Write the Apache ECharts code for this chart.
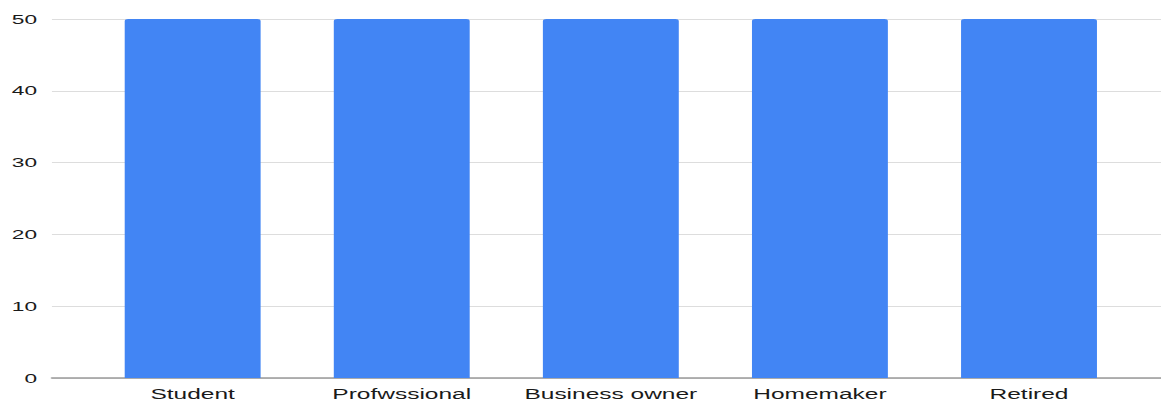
<!DOCTYPE html>
<html>
<head>
<meta charset="utf-8">
<script src="https://cdn.jsdelivr.net/npm/echarts@6/dist/echarts.min.js"></script>
<style>
html,body{margin:0;padding:0;background:#fff;overflow:hidden;}
#wrap{width:1161px;height:402px;overflow:hidden;}
#chart{width:664px;height:402px;transform:scaleX(1.7485);transform-origin:0 0;}
</style>
</head>
<body>
<div id="wrap"><div id="chart"></div></div>
<script>
const categories = ['Student', 'Profwssional', 'Business owner', 'Homemaker', 'Retired'];
const values = [50, 50, 50, 50, 50];
const yTicks = { min: 0, max: 50, interval: 10 };

const chart = echarts.init(document.getElementById('chart'), null, { renderer: 'svg' });
const font = 'Liberation Sans, Arial, sans-serif';
chart.setOption({
  animation: false,
  backgroundColor: '#fff',
  grid: [
    { left: 29.7, right: 0, top: 19, bottom: 24, containLabel: false },
    { left: 50.4, right: 15.7, top: 19, bottom: 24, containLabel: false }
  ],
  xAxis: [
    { gridIndex: 0, type: 'value', min: 0, max: 1,
      axisLine: { show: true, lineStyle: { color: '#9a9a9a', width: 1.5 } },
      axisTick: { show: false }, axisLabel: { show: false }, splitLine: { show: false } },
    { gridIndex: 1, type: 'category', data: categories,
      axisLine: { show: false }, axisTick: { show: false },
      axisLabel: { color: '#1a1a1a', fontSize: 14, fontFamily: font, margin: 9,
                   interval: 0, hideOverlap: false } }
  ],
  yAxis: [
    { gridIndex: 0, type: 'value', min: yTicks.min, max: yTicks.max, interval: yTicks.interval,
      axisLine: { show: false }, axisTick: { show: false },
      axisLabel: { color: '#1a1a1a', fontSize: 13, fontFamily: font, margin: 8.5 },
      splitLine: { lineStyle: { color: '#dddddd', width: 1 } } },
    { gridIndex: 1, type: 'value', min: yTicks.min, max: yTicks.max, interval: yTicks.interval, show: false,
      splitLine: { show: false } }
  ],
  series: [{
    type: 'bar', xAxisIndex: 1, yAxisIndex: 1,
    data: values, barWidth: '65%',
    itemStyle: { color: '#4285f4', borderRadius: [2, 2, 0, 0] }
  }]
});
</script>
</body>
</html>
